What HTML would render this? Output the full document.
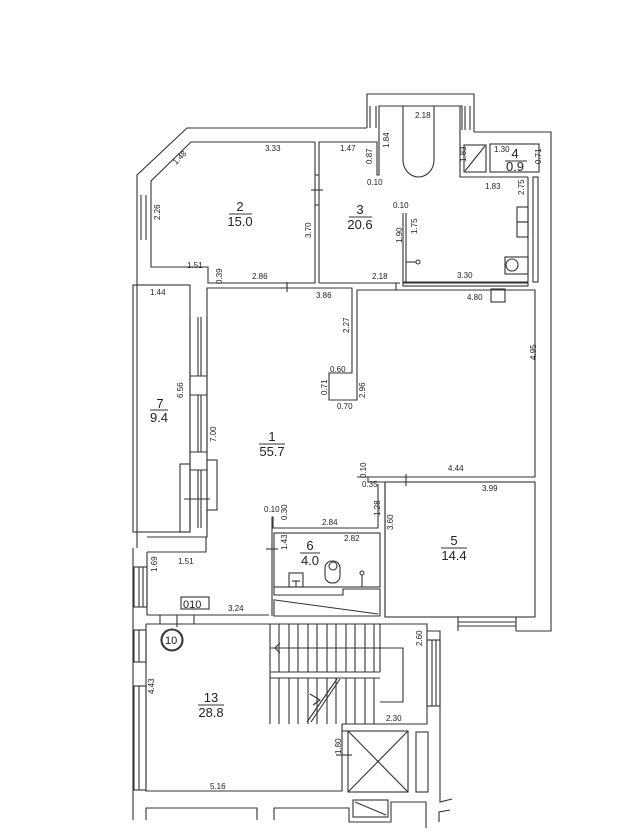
<!DOCTYPE html>
<html><head><meta charset="utf-8"><style>
html,body{margin:0;padding:0;background:#fff;}
svg{display:block;}
text{font-family:"Liberation Sans",sans-serif;fill:#222;}
.d{font-size:8px;}
.r{font-size:13px;}
</style></head><body>
<svg width="631" height="834" viewBox="0 0 631 834" xmlns="http://www.w3.org/2000/svg">
<g fill="none" stroke="#333" stroke-width="1.1">
<polyline points="367,128 367,94 474,94 474,132"/>
<polyline points="379,130 379,106 462,106 462,130"/>
<line x1="370" y1="106" x2="370" y2="128"/><line x1="376" y1="106" x2="376" y2="128"/>
<line x1="465" y1="106" x2="465" y2="130"/><line x1="470" y1="106" x2="470" y2="130"/>
<polyline points="367,128 187,128 137,175 137,548"/>
<polyline points="474,132 551,132 551,631 516,631"/>
<polyline points="315,142 191,142 151,181 151,267 208,267 208,283 315,283 315,142"/>
<line x1="141" y1="195" x2="141" y2="240"/><line x1="146" y1="195" x2="146" y2="240"/>
<polyline points="319,283 319,142 377,142 377,175 379,175 379,130"/>
<line x1="311" y1="190" x2="323" y2="190"/>
<line x1="315" y1="175" x2="319" y2="175"/><line x1="315" y1="205" x2="319" y2="205"/>
<polyline points="319,283 400,283"/>
<path d="M403,106 L403,160 A15.5,17 0 0 0 434,160 L434,106"/>
<polyline points="460,106 460,177 528,177"/>
<polyline points="403,213 403,282 528,282"/>
<line x1="406" y1="213" x2="406" y2="282"/>
<line x1="406" y1="262" x2="416" y2="262"/><circle cx="418" cy="262" r="2"/>
<rect x="403" y="283" width="125" height="3"/>
<rect x="533" y="177" width="5" height="105"/>
<rect x="517" y="207" width="11" height="15"/><rect x="517" y="222" width="11" height="15"/>
<rect x="505" y="257" width="23" height="17"/><ellipse cx="512" cy="265" rx="6" ry="6"/>
<rect x="464" y="145" width="22" height="27"/><line x1="465" y1="171" x2="485" y2="146"/>
<rect x="490" y="144" width="49" height="28"/>
<line x1="528" y1="177" x2="528" y2="282"/>
<rect x="491" y="289" width="14" height="13"/>
<rect x="133" y="285" width="57" height="247"/>
<polyline points="207,455 207,288 352,288 352,373 329,373 329,400 357,400 357,290 535,290 535,477 357,477"/>
<line x1="190" y1="317" x2="190" y2="528"/>
<line x1="198" y1="317" x2="198" y2="376"/><line x1="201" y1="317" x2="201" y2="376"/>
<line x1="198" y1="395" x2="198" y2="452"/><line x1="201" y1="395" x2="201" y2="452"/>
<line x1="198" y1="470" x2="198" y2="528"/><line x1="201" y1="470" x2="201" y2="528"/>
<line x1="190" y1="376" x2="207" y2="376"/><line x1="190" y1="395" x2="207" y2="395"/>
<line x1="190" y1="452" x2="207" y2="452"/><line x1="190" y1="470" x2="207" y2="470"/>
<rect x="180" y="464" width="10" height="68"/>
<rect x="207" y="460" width="10" height="50"/>
<line x1="184" y1="499" x2="210" y2="499"/>
<line x1="207" y1="317" x2="207" y2="530"/>
<line x1="287" y1="282" x2="287" y2="292"/>
<line x1="396" y1="283" x2="396" y2="290"/>
<polyline points="368,477 368,482 385,482 385,616"/>
<line x1="385" y1="482" x2="535" y2="482"/>
<line x1="406" y1="474" x2="406" y2="486"/>
<polyline points="378,484 378,528 273,528 273,517 272,517 272,616"/>
<rect x="385" y="482" width="150" height="135"/>
<line x1="458" y1="617" x2="458" y2="631"/><line x1="458" y1="622" x2="516" y2="622"/><line x1="458" y1="626" x2="516" y2="626"/><line x1="516" y1="617" x2="516" y2="631"/>
<rect x="274" y="533" width="106" height="54"/>
<line x1="266" y1="549" x2="278" y2="549"/>
<rect x="289" y="573" width="14" height="14"/><line x1="292" y1="581" x2="300" y2="581"/><line x1="296" y1="581" x2="296" y2="587"/>
<rect x="325" y="561" width="15" height="22" rx="7"/><circle cx="333" cy="566" r="4"/>
<line x1="362" y1="575" x2="362" y2="587"/><circle cx="362" cy="573" r="2"/>
<polyline points="274,587 274,595 343,595 343,589 380,589 380,616 274,616 274,599"/>
<line x1="275" y1="600" x2="378" y2="614"/>
<polyline points="133,532 178,532"/>
<polyline points="207,510 207,537 147,537"/>
<polyline points="147,552 206,552 206,537"/>
<polyline points="147,552 147,615 269,615"/>
<rect x="134" y="567" width="13" height="40"/><line x1="139" y1="567" x2="139" y2="607"/><line x1="143" y1="567" x2="143" y2="607"/>
<rect x="181" y="597" width="28" height="12"/>
<line x1="177" y1="615" x2="177" y2="627"/>
<polyline points="146,624 427,624 427,724 342,724 342,791 146,791 146,624"/>
<line x1="133" y1="548" x2="133" y2="820"/>
<rect x="134" y="630" width="12" height="32"/><line x1="139" y1="630" x2="139" y2="662"/>
<rect x="134" y="686" width="12" height="104"/><line x1="139" y1="686" x2="139" y2="790"/>
<line x1="160" y1="615" x2="160" y2="624"/><line x1="194" y1="615" x2="194" y2="624"/>
<circle cx="172" cy="640" r="11"/><circle cx="172" cy="640" r="10"/>
<line x1="270" y1="624" x2="270" y2="724"/>
<line x1="270" y1="672" x2="380" y2="672"/><line x1="270" y1="678" x2="380" y2="678"/>
<polyline points="378,648 403,648 403,702 380,702"/>
<line x1="270" y1="648" x2="378" y2="648"/>
<g>
<line x1="279" y1="624" x2="279" y2="672"/><line x1="289" y1="624" x2="289" y2="672"/><line x1="298" y1="624" x2="298" y2="672"/><line x1="308" y1="624" x2="308" y2="672"/><line x1="317" y1="624" x2="317" y2="672"/><line x1="327" y1="624" x2="327" y2="672"/><line x1="336" y1="624" x2="336" y2="672"/><line x1="346" y1="624" x2="346" y2="672"/><line x1="355" y1="624" x2="355" y2="672"/><line x1="365" y1="624" x2="365" y2="672"/><line x1="374" y1="624" x2="374" y2="672"/><line x1="380" y1="624" x2="380" y2="672"/>
<line x1="279" y1="678" x2="279" y2="724"/><line x1="289" y1="678" x2="289" y2="724"/><line x1="298" y1="678" x2="298" y2="724"/><line x1="308" y1="678" x2="308" y2="724"/><line x1="317" y1="678" x2="317" y2="724"/><line x1="327" y1="678" x2="327" y2="724"/><line x1="336" y1="678" x2="336" y2="724"/><line x1="346" y1="678" x2="346" y2="724"/><line x1="355" y1="678" x2="355" y2="724"/><line x1="365" y1="678" x2="365" y2="724"/><line x1="374" y1="678" x2="374" y2="724"/>
</g>
<polyline points="280,643 275,648 280,653"/>
<line x1="307" y1="722" x2="337" y2="679"/><line x1="311" y1="722" x2="340" y2="679"/>
<polyline points="310,694 320,700 313,705"/>
<polyline points="427,631 440,631 440,802 452,799"/>
<rect x="427" y="640" width="13" height="66"/><line x1="432" y1="640" x2="432" y2="706"/><line x1="436" y1="640" x2="436" y2="706"/>
<rect x="348" y="731" width="60" height="61"/>
<line x1="348" y1="731" x2="408" y2="792"/><line x1="408" y1="731" x2="348" y2="792"/>
<rect x="416" y="732" width="12" height="60"/>
<line x1="342" y1="731" x2="348" y2="731"/><line x1="336" y1="755" x2="352" y2="755"/>
<polyline points="146,820 146,808 257,808 257,820"/>
<polyline points="274,820 274,808 349,808 349,822 391,822 391,802 426,802 426,828"/>
<rect x="353" y="800" width="35" height="17"/><line x1="355" y1="802" x2="386" y2="815"/>
<polyline points="439,822 439,812 450,810"/>
</g>
<g class="d">
<text x="415" y="118">2.18</text>
<text x="265" y="151">3.33</text>
<text x="340" y="151">1.47</text>
<text x="494" y="152">1.30</text>
<text x="485" y="189">1.83</text>
<text x="187" y="268">1.51</text>
<text x="252" y="279">2.86</text>
<text x="372" y="279">2.18</text>
<text x="457" y="278">3.30</text>
<text x="150" y="295">1.44</text>
<text x="316" y="298">3.86</text>
<text x="467" y="300">4.80</text>
<text x="330" y="372">0.60</text>
<text x="337" y="409">0.70</text>
<text x="448" y="471">4.44</text>
<text x="482" y="491">3.99</text>
<text x="322" y="525">2.84</text>
<text x="344" y="541">2.82</text>
<text x="264" y="512">0.10</text>
<text x="393" y="208">0.10</text>
<text x="367" y="185">0.10</text>
<text x="178" y="564">1.51</text>
<text x="228" y="611">3.24</text>
<text x="386" y="721">2.30</text>
<text x="210" y="789">5.16</text>
<text x="183" y="608" font-size="11">010</text>
<text x="165" y="644" font-size="11">10</text>
</g>
<g class="d">
<text transform="translate(176,165) rotate(-45)">1.48</text>
<text transform="translate(160,220) rotate(-90)">2.26</text>
<text transform="translate(311,238) rotate(-90)">3.70</text>
<text transform="translate(222,284) rotate(-90)">0.39</text>
<text transform="translate(372,164) rotate(-90)">0.87</text>
<text transform="translate(389,148) rotate(-90)">1.84</text>
<text transform="translate(466,162) rotate(-90)">1.83</text>
<text transform="translate(541,164) rotate(-90)">0.71</text>
<text transform="translate(524,195) rotate(-90)">2.75</text>
<text transform="translate(402,243) rotate(-90)">1.90</text>
<text transform="translate(417,234) rotate(-90)">1.75</text>
<text transform="translate(349,333) rotate(-90)">2.27</text>
<text transform="translate(327,395) rotate(-90)">0.71</text>
<text transform="translate(365,398) rotate(-90)">2.96</text>
<text transform="translate(536,360) rotate(-90)">4.95</text>
<text transform="translate(183,398) rotate(-90)">6.56</text>
<text transform="translate(216,442) rotate(-90)">7.00</text>
<text transform="translate(366,478) rotate(-90)">0.10</text>
<text x="362" y="487">0.35</text>
<text transform="translate(380,516) rotate(-90)">1.28</text>
<text transform="translate(393,530) rotate(-90)">3.60</text>
<text transform="translate(287,520) rotate(-90)">0.30</text>
<text transform="translate(287,550) rotate(-90)">1.43</text>
<text transform="translate(157,572) rotate(-90)">1.69</text>
<text transform="translate(422,646) rotate(-90)">2.60</text>
<text transform="translate(154,694) rotate(-90)">4.43</text>
<text transform="translate(341,754) rotate(-90)">1.80</text>
</g>
<g class="r" text-anchor="middle">
<text x="240" y="211">2</text><line x1="229" y1="214" x2="252" y2="214" stroke="#333"/><text x="240" y="218" dy="8">15.0</text>
<text x="360" y="214">3</text><line x1="349" y1="217" x2="372" y2="217" stroke="#333"/><text x="360" y="221" dy="8">20.6</text>
<text x="515" y="158">4</text><line x1="505" y1="161" x2="527" y2="161" stroke="#333"/><text x="515" y="165" dy="6">0.9</text>
<text x="160" y="408">7</text><line x1="150" y1="410" x2="168" y2="410" stroke="#333"/><text x="159" y="414" dy="8">9.4</text>
<text x="272" y="441">1</text><line x1="259" y1="444" x2="285" y2="444" stroke="#333"/><text x="272" y="448" dy="8">55.7</text>
<text x="310" y="550">6</text><line x1="300" y1="553" x2="320" y2="553" stroke="#333"/><text x="310" y="557" dy="8">4.0</text>
<text x="454" y="545">5</text><line x1="441" y1="548" x2="467" y2="548" stroke="#333"/><text x="454" y="552" dy="8">14.4</text>
<text x="211" y="702">13</text><line x1="198" y1="705" x2="224" y2="705" stroke="#333"/><text x="211" y="709" dy="8">28.8</text>
</g>
</svg>
</body></html>
